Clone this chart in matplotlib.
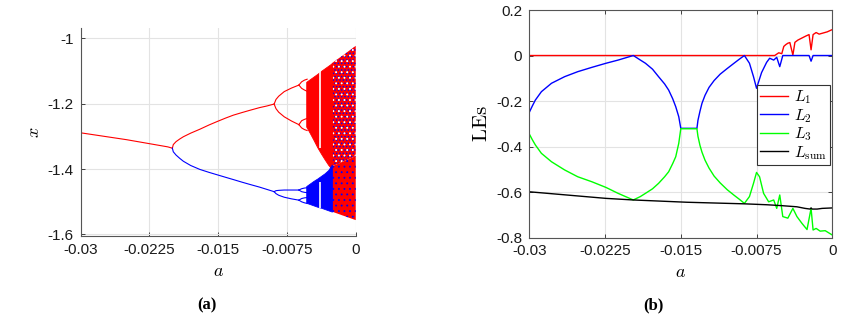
import numpy as np
import matplotlib
matplotlib.use("Agg")
from matplotlib import pyplot as plt

plt.rcParams["font.family"] = ["Liberation Sans", "DejaVu Sans"]
plt.rcParams["mathtext.fontset"] = "cm"
plt.rcParams["axes.unicode_minus"] = False
plt.rcParams["hatch.linewidth"] = 0.6

# ---- (a) bifurcation diagram, branches ----
fixed_a = [-0.030, -0.025, -0.0205, -0.0200]
fixed_x = [-1.289, -1.310, -1.332, -1.336]

p2_a = [-0.0200, -0.0199, -0.0196, -0.0192, -0.0188, -0.0180, -0.0170, -0.0160, -0.01516,
        -0.0142, -0.01335, -0.0124, -0.01153, -0.0105, -0.0097, -0.0089]
p2_up = [-1.336, -1.325, -1.316, -1.308, -1.301, -1.290, -1.278, -1.265, -1.255,
         -1.244, -1.235, -1.227, -1.220, -1.212, -1.207, -1.201]
p2_lo = [-1.336, -1.347, -1.357, -1.367, -1.376, -1.389, -1.401, -1.410, -1.417,
         -1.425, -1.432, -1.440, -1.447, -1.455, -1.462, -1.469]

p4_a = [-0.0089, -0.0087, -0.0084, -0.0078, -0.0070, -0.0062]
p4_red_up = [-1.201, -1.187, -1.177, -1.163, -1.152, -1.143]
p4_red_lo = [-1.201, -1.215, -1.226, -1.240, -1.253, -1.264]
p4_blue_up = [-1.469, -1.466, -1.465, -1.464, -1.464, -1.464]
p4_blue_lo = [-1.469, -1.475, -1.480, -1.486, -1.491, -1.495]

p8_a = [-0.0062, -0.0059, -0.0056, -0.0053]
p8_red = [([-1.143, -1.133, -1.128, -1.125], [-1.143, -1.153, -1.158, -1.162]),
          ([-1.264, -1.252, -1.248, -1.245], [-1.264, -1.274, -1.279, -1.282])]
p8_blue = [([-1.464, -1.460, -1.458, -1.457], [-1.464, -1.469, -1.471, -1.472]),
           ([-1.495, -1.490, -1.488, -1.487], [-1.495, -1.500, -1.503, -1.505])]

# chaotic bands (envelopes)
band_a = [-0.0054, -0.0050, -0.0046, -0.0042, -0.0038, -0.0034, -0.0030, -0.0026]
red_top = [-1.133, -1.125, -1.117, -1.109, -1.100, -1.092, -1.084, -1.076]
red_bot = [-1.270, -1.290, -1.311, -1.333, -1.352, -1.370, -1.387, -1.400]
blue_top = [-1.452, -1.444, -1.436, -1.429, -1.421, -1.413, -1.403, -1.386]
blue_bot = [-1.503, -1.507, -1.511, -1.515, -1.518, -1.522, -1.526, -1.530]

mix_a = [-0.0026, -0.0013, 0.0]
mix_top = [-1.076, -1.050, -1.023]
mix_mid = [-1.392, -1.376, -1.360]
mix_bot = [-1.530, -1.543, -1.556]

window_a = -0.0039
window_red = (-1.336, -1.100)
window_blue = (-1.520, -1.440)

# ---- (b) Lyapunov exponents ----
l1_a = [-0.030, -0.0057, -0.0053, -0.0050, -0.0048, -0.0046, -0.0044, -0.0042, -0.0039, -0.0037,
        -0.0034, -0.0030, -0.0026, -0.0023, -0.0021, -0.0019, -0.0016, -0.0013, -0.0009, -0.0005, 0.0]
l1 = [0.0, 0.0, 0.012, 0.008, 0.040, 0.048, 0.054, 0.057, 0.002, 0.058,
      0.068, 0.077, 0.086, 0.092, 0.025, 0.092, 0.101, 0.094, 0.099, 0.104, 0.114]

l2_a = [-0.0300, -0.0297, -0.0294, -0.0288, -0.0278, -0.0265, -0.0252, -0.0238, -0.0224, -0.0212,
        -0.0197, -0.0190, -0.0185, -0.0178, -0.0172, -0.0166, -0.0162, -0.0158, -0.0155, -0.0152,
        -0.0150, -0.0134, -0.0133, -0.0131, -0.0129, -0.0126, -0.0122, -0.0117, -0.0111, -0.0104,
        -0.0097, -0.0092, -0.0087, -0.0082, -0.0078, -0.0075, -0.0070, -0.0065, -0.0062, -0.0058,
        -0.0055, -0.0052, -0.0049, -0.0023, -0.0021, -0.0019, 0.0]
l2 = [-0.250, -0.222, -0.196, -0.159, -0.122, -0.093, -0.071, -0.052, -0.034, -0.020,
      0.000, -0.020, -0.034, -0.060, -0.093, -0.125, -0.152, -0.190, -0.225, -0.269,
      -0.320, -0.320, -0.285, -0.245, -0.210, -0.175, -0.140, -0.110, -0.082, -0.057,
      -0.033, -0.016, 0.000, -0.034, -0.093, -0.144, -0.075, -0.030, -0.012, -0.020,
      -0.008, -0.049, 0.000, 0.000, -0.025, 0.000, 0.000]

l3_a = [-0.0300, -0.0297, -0.0294, -0.0288, -0.0278, -0.0265, -0.0252, -0.0238, -0.0224, -0.0212,
        -0.0197, -0.0190, -0.0185, -0.0178, -0.0172, -0.0166, -0.0162, -0.0158, -0.0155, -0.0152,
        -0.0150, -0.0134, -0.0133, -0.0131, -0.0129, -0.0126, -0.0122, -0.0117, -0.0111, -0.0104,
        -0.0097, -0.0092, -0.0087, -0.0082, -0.0078, -0.0075, -0.0072, -0.0068, -0.0063, -0.0058,
        -0.0055, -0.0052, -0.0049, -0.0044, -0.0039, -0.0035, -0.0030, -0.0025, -0.0021, -0.0019,
        -0.0016, -0.0012, -0.0007, 0.0]
l3 = [-0.345, -0.370, -0.393, -0.430, -0.467, -0.503, -0.533, -0.555, -0.580, -0.606,
      -0.635, -0.620, -0.606, -0.586, -0.562, -0.533, -0.511, -0.475, -0.445, -0.386,
      -0.322, -0.322, -0.355, -0.395, -0.425, -0.460, -0.495, -0.530, -0.560, -0.590,
      -0.615, -0.632, -0.650, -0.620, -0.562, -0.514, -0.533, -0.606, -0.643, -0.635,
      -0.672, -0.613, -0.708, -0.715, -0.672, -0.708, -0.738, -0.765, -0.672, -0.767,
      -0.760, -0.772, -0.770, -0.789]

lsum_a = [-0.030, -0.0224, -0.0197, -0.0144, -0.0087, -0.0065, -0.0050, -0.0035, -0.0027,
          -0.0022, -0.0021, -0.0020, -0.0015, -0.0010, 0.0]
lsum = [-0.599, -0.628, -0.635, -0.645, -0.652, -0.656, -0.660, -0.665, -0.672,
        -0.675, -0.670, -0.675, -0.675, -0.672, -0.670]

x_ticks = [-0.03, -0.0225, -0.015, -0.0075, 0]
x_ticklabels = ["-0.03", "-0.0225", "-0.015", "-0.0075", "0"]
a_yticks = [-1.6, -1.4, -1.2, -1.0]
a_yticklabels = ["-1.6", "-1.4", "-1.2", "-1"]
b_yticks = [-0.8, -0.6, -0.4, -0.2, 0, 0.2]
b_yticklabels = ["-0.8", "-0.6", "-0.4", "-0.2", "0", "0.2"]

RED, BLUE, GREEN = (1, 0, 0), (0, 0, 1), (0, 1, 0)
GRID = "#e3e3e3"
AXC = "#262626"


def style_axes(ax):
    ax.grid(True, color=GRID, linewidth=0.8)
    ax.set_axisbelow(True)
    ax.tick_params(direction="in", length=3, width=0.6, colors=AXC, labelsize=11,
                   labelcolor="#1a1a1a", pad=5)
    for s in ax.spines.values():
        s.set_color("#555555")
        s.set_linewidth(0.8)


def main():
    fig = plt.figure(figsize=(8.63, 3.2), dpi=100)

    # ---------------- (a) ----------------
    ax = fig.add_axes([0.0935, 0.2625, 0.3187, 0.649])
    lw = 0.8
    ax.plot(fixed_a, fixed_x, color=RED, lw=lw)
    ax.plot(p2_a, p2_up, color=RED, lw=lw)
    ax.plot(p2_a, p2_lo, color=BLUE, lw=lw)
    ax.plot(p4_a, p4_red_up, color=RED, lw=lw)
    ax.plot(p4_a, p4_red_lo, color=RED, lw=lw)
    ax.plot(p4_a, p4_blue_up, color=BLUE, lw=lw)
    ax.plot(p4_a, p4_blue_lo, color=BLUE, lw=lw)
    for up, lo in p8_red:
        ax.plot(p8_a, up, color=RED, lw=lw)
        ax.plot(p8_a, lo, color=RED, lw=lw)
    for up, lo in p8_blue:
        ax.plot(p8_a, up, color=BLUE, lw=lw)
        ax.plot(p8_a, lo, color=BLUE, lw=lw)

    # mixed chaotic region: red with blue and white speckle
    ax.fill_between(mix_a, mix_mid, mix_top, facecolor=RED, edgecolor=BLUE,
                    hatch=".....", lw=0)
    ax.fill_between(mix_a, mix_mid, mix_top, facecolor="none", edgecolor="white",
                    hatch="...", lw=0)
    ax.fill_between(mix_a, mix_bot, mix_mid, facecolor=RED, edgecolor=BLUE,
                    hatch="...", lw=0)
    ax.fill_between(band_a, red_bot, red_top, facecolor=RED, edgecolor=RED, lw=0.6)
    ax.fill_between(band_a, blue_bot, blue_top, facecolor=BLUE, edgecolor=BLUE, lw=0.6)
    ax.vlines(window_a, *window_red, color="white", lw=1.2)
    ax.vlines(window_a, *window_blue, color="white", lw=1.2)

    ax.set_xlim(-0.03, 0)
    ax.set_ylim(-1.6046, -0.9694)
    ax.set_xticks(x_ticks, x_ticklabels)
    ax.set_yticks(a_yticks, a_yticklabels)
    style_axes(ax)
    ax.spines["top"].set_visible(False)
    ax.spines["right"].set_visible(False)
    ax.set_xlabel("$a$", fontsize=13, labelpad=4)
    ax.set_ylabel("$x$", fontsize=13, labelpad=3)

    # ---------------- (b) ----------------
    bx = fig.add_axes([0.6133, 0.2578, 0.3511, 0.7109])
    bx.plot(l1_a, l1, color=RED, lw=1.0, label="$L_1$")
    bx.plot(l2_a, l2, color=BLUE, lw=1.0, label="$L_2$")
    bx.plot(l3_a, l3, color=GREEN, lw=1.0, label="$L_3$")
    bx.plot(lsum_a, lsum, color="black", lw=1.0, label=r"$L_{\mathrm{sum}}$")
    bx.set_xlim(-0.03, 0)
    bx.set_ylim(-0.8, 0.2)
    bx.set_xticks(x_ticks, x_ticklabels)
    bx.set_yticks(b_yticks, b_yticklabels)
    style_axes(bx)
    bx.tick_params(top=True, right=True)
    bx.set_xlabel("$a$", fontsize=13, labelpad=4)
    bx.set_ylabel(r"$\mathrm{LEs}$", fontsize=15, labelpad=4)
    leg = bx.legend(loc="upper left", bbox_to_anchor=(0.752, 0.670), fontsize=11.5,
                    frameon=True, fancybox=False, edgecolor="#333333", framealpha=1,
                    handlelength=1.75, handletextpad=0.35, labelspacing=0.05,
                    borderpad=0.2, borderaxespad=0)
    leg.get_frame().set_linewidth(0.8)

    fig.text(0.240, 0.047, "(a)", fontsize=12, fontweight="bold",
             family="Liberation Serif", ha="center", va="center")
    fig.text(0.757, 0.047, "(b)", fontsize=12, fontweight="bold",
             family="Liberation Serif", ha="center", va="center")

    fig.savefig("out.png", dpi=100)


if __name__ == "__main__":
    main()
